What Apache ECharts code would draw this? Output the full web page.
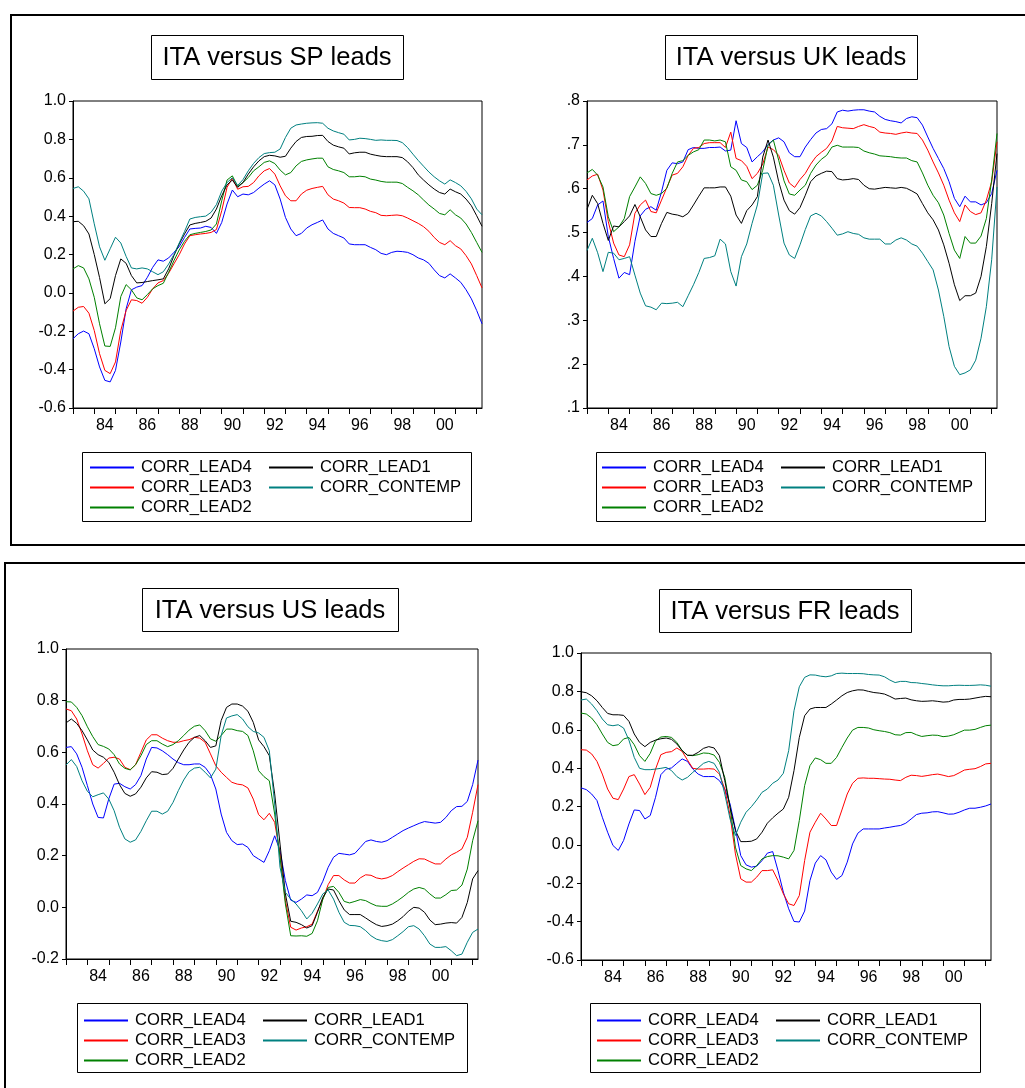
<!DOCTYPE html>
<html><head><meta charset="utf-8">
<script src="https://cdn.jsdelivr.net/npm/echarts@6/dist/echarts.min.js"></script>
<style>html,body{margin:0;padding:0;background:#fff}#c{width:1025px;height:1088px}</style>
</head><body><div id="c"></div>
<script>
const quarters = ['1983Q1','1983Q2','1983Q3','1983Q4','1984Q1','1984Q2','1984Q3','1984Q4','1985Q1','1985Q2','1985Q3','1985Q4','1986Q1','1986Q2','1986Q3','1986Q4','1987Q1','1987Q2','1987Q3','1987Q4','1988Q1','1988Q2','1988Q3','1988Q4','1989Q1','1989Q2','1989Q3','1989Q4','1990Q1','1990Q2','1990Q3','1990Q4','1991Q1','1991Q2','1991Q3','1991Q4','1992Q1','1992Q2','1992Q3','1992Q4','1993Q1','1993Q2','1993Q3','1993Q4','1994Q1','1994Q2','1994Q3','1994Q4','1995Q1','1995Q2','1995Q3','1995Q4','1996Q1','1996Q2','1996Q3','1996Q4','1997Q1','1997Q2','1997Q3','1997Q4','1998Q1','1998Q2','1998Q3','1998Q4','1999Q1','1999Q2','1999Q3','1999Q4','2000Q1','2000Q2','2000Q3','2000Q4','2001Q1','2001Q2','2001Q3','2001Q4','2002Q1','2002Q2'];
const xTickLabels = ['84','86','88','90','92','94','96','98','00'];
const seriesNames = ['CORR_LEAD4','CORR_LEAD3','CORR_LEAD2','CORR_LEAD1','CORR_CONTEMP'];
const seriesColors = ['#0000ff','#ff0000','#008000','#000000','#008080'];

// ITA versus SP
const sp_lead4 = [-0.239,-0.213,-0.199,-0.213,-0.291,-0.386,-0.456,-0.464,-0.404,-0.256,-0.083,0.016,0.030,0.038,0.081,0.133,0.172,0.165,0.182,0.211,0.241,0.289,0.333,0.336,0.338,0.347,0.341,0.310,0.367,0.463,0.536,0.501,0.515,0.511,0.523,0.546,0.567,0.584,0.563,0.489,0.393,0.333,0.298,0.310,0.338,0.355,0.367,0.380,0.333,0.310,0.298,0.286,0.255,0.251,0.251,0.251,0.237,0.225,0.206,0.199,0.211,0.217,0.215,0.211,0.199,0.182,0.172,0.154,0.120,0.090,0.078,0.099,0.078,0.055,0.016,-0.031,-0.092,-0.161];
const sp_lead3 = [-0.095,-0.075,-0.071,-0.106,-0.196,-0.317,-0.404,-0.421,-0.360,-0.196,-0.092,-0.036,-0.040,-0.054,-0.023,0.021,0.052,0.064,0.102,0.151,0.199,0.255,0.298,0.303,0.307,0.310,0.315,0.330,0.428,0.550,0.598,0.540,0.553,0.555,0.575,0.610,0.636,0.648,0.619,0.558,0.506,0.480,0.480,0.515,0.535,0.544,0.550,0.555,0.511,0.489,0.480,0.468,0.445,0.444,0.444,0.437,0.425,0.418,0.404,0.402,0.404,0.406,0.402,0.390,0.376,0.362,0.345,0.321,0.289,0.263,0.251,0.272,0.246,0.229,0.194,0.151,0.090,0.026];
const sp_lead2 = [0.125,0.142,0.130,0.073,-0.023,-0.161,-0.277,-0.279,-0.182,-0.019,0.043,0.016,-0.026,-0.036,-0.009,0.021,0.038,0.050,0.107,0.168,0.224,0.269,0.303,0.310,0.315,0.320,0.328,0.359,0.480,0.588,0.610,0.555,0.575,0.601,0.636,0.657,0.680,0.688,0.674,0.640,0.615,0.627,0.662,0.685,0.693,0.698,0.702,0.702,0.657,0.643,0.636,0.627,0.605,0.605,0.608,0.605,0.593,0.588,0.581,0.577,0.577,0.577,0.570,0.550,0.532,0.511,0.484,0.458,0.437,0.414,0.407,0.433,0.407,0.390,0.359,0.315,0.263,0.211];
const sp_lead1 = [0.371,0.373,0.350,0.307,0.200,0.080,-0.057,-0.030,0.090,0.177,0.154,0.090,0.052,0.054,0.059,0.064,0.068,0.073,0.125,0.194,0.255,0.307,0.354,0.362,0.367,0.373,0.390,0.437,0.506,0.563,0.588,0.550,0.575,0.619,0.657,0.688,0.710,0.717,0.714,0.707,0.712,0.754,0.789,0.810,0.815,0.816,0.820,0.821,0.789,0.770,0.761,0.754,0.724,0.730,0.733,0.733,0.723,0.717,0.712,0.710,0.710,0.710,0.705,0.683,0.653,0.615,0.588,0.563,0.541,0.523,0.515,0.541,0.527,0.515,0.489,0.454,0.402,0.347];
const sp_contemp = [0.544,0.553,0.530,0.490,0.360,0.240,0.170,0.230,0.290,0.260,0.190,0.130,0.125,0.130,0.125,0.110,0.095,0.110,0.150,0.200,0.260,0.320,0.385,0.393,0.397,0.400,0.420,0.460,0.530,0.575,0.600,0.560,0.590,0.636,0.675,0.705,0.726,0.731,0.733,0.750,0.810,0.858,0.875,0.880,0.884,0.886,0.887,0.884,0.858,0.844,0.835,0.827,0.797,0.800,0.806,0.804,0.800,0.795,0.797,0.795,0.795,0.794,0.783,0.757,0.723,0.690,0.660,0.630,0.605,0.584,0.567,0.589,0.575,0.558,0.529,0.490,0.437,0.407];

// ITA versus UK
const uk_lead4 = [0.523,0.532,0.563,0.572,0.491,0.441,0.396,0.409,0.404,0.480,0.538,0.553,0.559,0.551,0.593,0.642,0.659,0.657,0.661,0.689,0.694,0.692,0.692,0.694,0.694,0.695,0.686,0.688,0.755,0.703,0.694,0.661,0.673,0.684,0.701,0.711,0.716,0.707,0.682,0.673,0.673,0.695,0.712,0.727,0.735,0.737,0.748,0.775,0.779,0.777,0.779,0.780,0.780,0.777,0.775,0.765,0.758,0.755,0.753,0.750,0.760,0.764,0.762,0.745,0.718,0.692,0.669,0.646,0.616,0.578,0.559,0.583,0.570,0.570,0.563,0.568,0.589,0.642];
const uk_lead3 = [0.620,0.629,0.633,0.597,0.525,0.476,0.449,0.445,0.472,0.544,0.563,0.574,0.548,0.545,0.574,0.603,0.631,0.635,0.650,0.676,0.692,0.694,0.703,0.705,0.705,0.705,0.694,0.729,0.669,0.664,0.651,0.623,0.635,0.656,0.695,0.689,0.676,0.642,0.613,0.603,0.621,0.635,0.656,0.673,0.683,0.692,0.709,0.742,0.739,0.738,0.737,0.742,0.746,0.742,0.739,0.729,0.727,0.726,0.724,0.727,0.729,0.727,0.726,0.711,0.688,0.661,0.636,0.608,0.574,0.545,0.525,0.563,0.548,0.541,0.545,0.574,0.616,0.707];
const uk_lead2 = [0.636,0.644,0.631,0.604,0.536,0.502,0.513,0.532,0.582,0.604,0.627,0.612,0.589,0.585,0.589,0.601,0.635,0.661,0.664,0.676,0.684,0.689,0.711,0.711,0.709,0.711,0.707,0.650,0.642,0.620,0.616,0.598,0.608,0.642,0.699,0.711,0.665,0.618,0.588,0.585,0.597,0.608,0.635,0.654,0.667,0.676,0.695,0.699,0.695,0.695,0.695,0.694,0.686,0.682,0.679,0.675,0.674,0.673,0.671,0.670,0.670,0.664,0.661,0.636,0.608,0.585,0.568,0.540,0.498,0.460,0.441,0.491,0.476,0.476,0.492,0.532,0.620,0.726];
const uk_lead1 = [0.553,0.585,0.566,0.521,0.482,0.515,0.513,0.525,0.538,0.564,0.536,0.506,0.491,0.491,0.521,0.546,0.542,0.540,0.536,0.544,0.563,0.583,0.602,0.602,0.602,0.604,0.604,0.583,0.540,0.521,0.550,0.563,0.582,0.672,0.711,0.672,0.616,0.574,0.550,0.542,0.557,0.585,0.616,0.629,0.635,0.640,0.639,0.623,0.620,0.621,0.623,0.621,0.608,0.600,0.599,0.601,0.603,0.602,0.601,0.603,0.601,0.595,0.588,0.566,0.545,0.529,0.506,0.472,0.430,0.381,0.345,0.356,0.356,0.362,0.400,0.468,0.566,0.680];
const uk_contemp = [0.459,0.487,0.454,0.411,0.455,0.453,0.438,0.441,0.445,0.403,0.362,0.333,0.330,0.324,0.339,0.338,0.339,0.341,0.331,0.356,0.381,0.409,0.441,0.443,0.447,0.485,0.474,0.411,0.378,0.445,0.474,0.521,0.563,0.635,0.636,0.608,0.540,0.476,0.449,0.441,0.472,0.507,0.538,0.544,0.538,0.525,0.510,0.494,0.497,0.502,0.498,0.496,0.488,0.485,0.485,0.485,0.474,0.474,0.483,0.488,0.483,0.474,0.469,0.453,0.434,0.415,0.369,0.309,0.240,0.195,0.176,0.180,0.187,0.209,0.259,0.331,0.438,0.604];

// ITA versus US
const us_lead4 = [0.619,0.622,0.594,0.542,0.471,0.400,0.348,0.346,0.420,0.477,0.480,0.467,0.458,0.475,0.510,0.574,0.619,0.617,0.606,0.591,0.574,0.560,0.552,0.552,0.555,0.555,0.542,0.514,0.458,0.361,0.290,0.258,0.243,0.245,0.232,0.200,0.187,0.174,0.219,0.277,0.219,0.103,0.028,0.019,0.032,0.048,0.045,0.058,0.101,0.155,0.194,0.209,0.206,0.203,0.209,0.232,0.255,0.261,0.255,0.252,0.258,0.271,0.284,0.297,0.307,0.316,0.325,0.332,0.329,0.326,0.329,0.348,0.374,0.390,0.391,0.410,0.475,0.570];
const us_lead3 = [0.768,0.761,0.729,0.671,0.606,0.552,0.539,0.557,0.578,0.581,0.574,0.542,0.533,0.552,0.600,0.648,0.668,0.668,0.655,0.645,0.639,0.639,0.645,0.649,0.658,0.655,0.639,0.594,0.548,0.523,0.503,0.484,0.477,0.474,0.462,0.419,0.359,0.339,0.364,0.329,0.206,0.026,-0.077,-0.088,-0.080,-0.075,-0.065,-0.015,0.032,0.088,0.123,0.123,0.106,0.094,0.094,0.114,0.126,0.124,0.114,0.110,0.114,0.123,0.138,0.152,0.165,0.178,0.188,0.187,0.177,0.168,0.168,0.187,0.203,0.213,0.226,0.271,0.368,0.475];
const us_lead2 = [0.796,0.795,0.774,0.742,0.699,0.661,0.630,0.623,0.613,0.591,0.555,0.538,0.532,0.552,0.587,0.630,0.645,0.645,0.632,0.622,0.630,0.645,0.665,0.686,0.701,0.706,0.684,0.652,0.643,0.665,0.690,0.690,0.684,0.681,0.665,0.606,0.529,0.506,0.490,0.361,0.194,0.013,-0.110,-0.111,-0.110,-0.112,-0.101,-0.052,0.032,0.077,0.081,0.058,0.023,0.017,0.023,0.030,0.026,0.015,0.006,0.004,0.004,0.013,0.026,0.041,0.058,0.071,0.077,0.071,0.052,0.036,0.036,0.049,0.065,0.067,0.086,0.148,0.258,0.335];
const us_lead1 = [0.714,0.729,0.712,0.684,0.648,0.609,0.591,0.581,0.561,0.523,0.475,0.441,0.430,0.439,0.465,0.501,0.525,0.523,0.514,0.516,0.538,0.574,0.609,0.639,0.658,0.665,0.645,0.619,0.625,0.723,0.774,0.787,0.787,0.779,0.759,0.716,0.648,0.622,0.587,0.439,0.245,0.052,-0.054,-0.058,-0.067,-0.080,-0.071,-0.019,0.039,0.071,0.067,0.026,-0.010,-0.028,-0.028,-0.028,-0.041,-0.055,-0.067,-0.074,-0.071,-0.065,-0.052,-0.036,-0.015,0.000,-0.003,-0.019,-0.049,-0.067,-0.065,-0.061,-0.059,-0.061,-0.039,0.019,0.110,0.142];
const us_contemp = [0.551,0.572,0.545,0.490,0.449,0.428,0.436,0.443,0.419,0.374,0.310,0.265,0.252,0.261,0.294,0.335,0.372,0.372,0.361,0.372,0.406,0.452,0.493,0.525,0.539,0.542,0.523,0.501,0.535,0.665,0.733,0.741,0.746,0.729,0.699,0.681,0.675,0.658,0.606,0.400,0.155,0.058,0.032,0.013,-0.013,-0.045,-0.023,0.013,0.052,0.067,0.032,-0.019,-0.058,-0.070,-0.071,-0.075,-0.090,-0.110,-0.123,-0.129,-0.132,-0.125,-0.110,-0.094,-0.075,-0.071,-0.084,-0.110,-0.142,-0.155,-0.155,-0.152,-0.168,-0.187,-0.181,-0.135,-0.097,-0.084];

// ITA versus FR
const fr_lead4 = [0.297,0.288,0.265,0.231,0.144,0.066,-0.003,-0.029,0.023,0.109,0.182,0.179,0.135,0.153,0.248,0.366,0.395,0.401,0.425,0.448,0.435,0.395,0.369,0.356,0.356,0.356,0.335,0.291,0.213,0.083,-0.056,-0.104,-0.116,-0.111,-0.082,-0.043,-0.035,-0.134,-0.246,-0.333,-0.399,-0.402,-0.345,-0.186,-0.095,-0.056,-0.078,-0.142,-0.180,-0.160,-0.090,0.005,0.061,0.083,0.083,0.083,0.083,0.088,0.092,0.097,0.101,0.113,0.135,0.158,0.165,0.167,0.172,0.173,0.167,0.160,0.161,0.170,0.182,0.191,0.191,0.196,0.203,0.213];
const fr_lead3 = [0.496,0.494,0.474,0.435,0.369,0.291,0.243,0.236,0.291,0.356,0.366,0.317,0.262,0.300,0.395,0.470,0.482,0.486,0.505,0.487,0.442,0.399,0.395,0.395,0.397,0.395,0.369,0.291,0.153,-0.047,-0.177,-0.194,-0.194,-0.168,-0.134,-0.134,-0.130,-0.186,-0.255,-0.307,-0.316,-0.264,-0.082,0.066,0.118,0.165,0.135,0.101,0.101,0.182,0.265,0.321,0.347,0.349,0.347,0.347,0.345,0.343,0.342,0.338,0.335,0.352,0.363,0.361,0.357,0.361,0.366,0.369,0.363,0.356,0.361,0.375,0.390,0.394,0.397,0.408,0.422,0.425];
const fr_lead2 = [0.687,0.682,0.661,0.626,0.578,0.534,0.517,0.522,0.552,0.560,0.522,0.465,0.435,0.477,0.543,0.562,0.565,0.560,0.534,0.491,0.467,0.465,0.470,0.479,0.477,0.468,0.430,0.352,0.196,-0.012,-0.108,-0.125,-0.134,-0.108,-0.073,-0.061,-0.056,-0.057,-0.064,-0.073,-0.029,0.127,0.309,0.413,0.453,0.444,0.425,0.425,0.456,0.508,0.557,0.598,0.612,0.612,0.609,0.600,0.595,0.591,0.585,0.574,0.572,0.585,0.586,0.574,0.565,0.569,0.572,0.571,0.564,0.567,0.574,0.586,0.598,0.598,0.602,0.612,0.621,0.624];
const fr_lead1 = [0.798,0.793,0.777,0.751,0.716,0.685,0.678,0.678,0.675,0.644,0.578,0.534,0.512,0.534,0.546,0.553,0.557,0.550,0.526,0.491,0.467,0.467,0.482,0.503,0.512,0.505,0.465,0.335,0.196,0.075,0.017,0.017,0.019,0.031,0.066,0.113,0.141,0.165,0.187,0.248,0.387,0.560,0.673,0.708,0.716,0.716,0.716,0.734,0.755,0.777,0.794,0.803,0.808,0.807,0.800,0.794,0.791,0.786,0.774,0.760,0.763,0.765,0.756,0.751,0.748,0.749,0.751,0.748,0.744,0.746,0.755,0.758,0.758,0.760,0.765,0.770,0.774,0.772];
const fr_contemp = [0.755,0.760,0.734,0.699,0.656,0.626,0.621,0.626,0.609,0.546,0.456,0.399,0.392,0.392,0.395,0.399,0.404,0.387,0.356,0.338,0.352,0.378,0.401,0.425,0.435,0.425,0.378,0.265,0.135,0.049,0.118,0.170,0.199,0.234,0.274,0.291,0.321,0.338,0.373,0.491,0.699,0.824,0.873,0.886,0.885,0.879,0.876,0.881,0.893,0.895,0.893,0.893,0.893,0.892,0.888,0.886,0.885,0.876,0.859,0.846,0.852,0.852,0.846,0.845,0.841,0.838,0.834,0.831,0.829,0.829,0.831,0.832,0.831,0.831,0.832,0.834,0.832,0.827];

const FONT = '"Liberation Sans", Arial, sans-serif';
const fmt1 = v => v.toFixed(1);
const fmtNoZero = v => v.toFixed(1).replace(/^0/, '');

const panels = [
  { title: 'ITA versus SP leads', series: [sp_lead4, sp_lead3, sp_lead2, sp_lead1, sp_contemp],
    grid: {left: 73, top: 101, width: 409, height: 307}, yMin: -0.6, yMax: 1.0, yInt: 0.2, fmt: fmt1,
    titleBox: [151, 35, 252, 44], legendBox: [82, 452, 389, 69], legendCols: [90, 269], legendTop: 459 },
  { title: 'ITA versus UK leads', series: [uk_lead4, uk_lead3, uk_lead2, uk_lead1, uk_contemp],
    grid: {left: 587, top: 101, width: 410, height: 307}, yMin: 0.1, yMax: 0.8, yInt: 0.1, fmt: fmtNoZero,
    titleBox: [665, 35, 252, 44], legendBox: [596, 452, 389, 69], legendCols: [602, 781], legendTop: 459 },
  { title: 'ITA versus US leads', series: [us_lead4, us_lead3, us_lead2, us_lead1, us_contemp],
    grid: {left: 66, top: 649, width: 412, height: 310}, yMin: -0.2, yMax: 1.0, yInt: 0.2, fmt: fmt1,
    titleBox: [142, 588, 256, 43], legendBox: [77, 1003, 390, 69], legendCols: [84, 263], legendTop: 1012 },
  { title: 'ITA versus FR leads', series: [fr_lead4, fr_lead3, fr_lead2, fr_lead1, fr_contemp],
    grid: {left: 581, top: 653, width: 410, height: 307}, yMin: -0.6, yMax: 1.0, yInt: 0.2, fmt: fmt1,
    titleBox: [659, 589, 252, 43], legendBox: [590, 1003, 390, 69], legendCols: [597, 776], legendTop: 1012 }
];

const grids = [], xAxes = [], yAxes = [], series = [], legends = [], graphics = [];

// outer frames
graphics.push({type: 'rect', shape: {x: 11, y: 15, width: 1100, height: 530}, style: {fill: 'none', stroke: '#000', lineWidth: 2}, silent: true});
graphics.push({type: 'rect', shape: {x: 5, y: 563, width: 1100, height: 600}, style: {fill: 'none', stroke: '#000', lineWidth: 2}, silent: true});

panels.forEach((p, gi) => {
  grids.push(Object.assign({show: true, borderColor: '#000', borderWidth: 1, backgroundColor: 'transparent', containLabel: false}, p.grid));
  xAxes.push({
    type: 'category', gridIndex: gi, data: quarters, boundaryGap: false,
    axisLine: {show: true, onZero: false, lineStyle: {color: '#000', width: 1}},
    axisTick: {show: true, length: 6, interval: (i) => i % 4 === 0, lineStyle: {color: '#000', width: 1}},
    axisLabel: {
      interval: (i, v) => v.endsWith('Q3') && xTickLabels.indexOf(v.slice(2, 4)) >= 0,
      formatter: v => v.slice(2, 4), color: '#000', fontSize: 16, fontFamily: FONT, margin: 10
    },
    splitLine: {show: false}
  });
  yAxes.push({
    type: 'value', gridIndex: gi, min: p.yMin, max: p.yMax, interval: p.yInt,
    axisLine: {show: true, onZero: false, lineStyle: {color: '#000', width: 1}},
    axisTick: {show: true, length: 4, lineStyle: {color: '#000', width: 1}},
    axisLabel: {formatter: p.fmt, color: '#000', fontSize: 16, fontFamily: FONT, margin: 7},
    splitLine: {show: false}
  });
  p.series.forEach((d, si) => {
    series.push({
      name: seriesNames[si], type: 'line', xAxisIndex: gi, yAxisIndex: gi, data: d,
      symbol: 'none', showSymbol: false, smooth: false, silent: true,
      lineStyle: {color: seriesColors[si], width: 1}, itemStyle: {color: seriesColors[si]},
      emphasis: {disabled: true}
    });
  });
  const legendBase = {
    orient: 'vertical', top: p.legendTop, padding: 0, itemWidth: 44, itemHeight: 2, itemGap: 3,
    selectedMode: false, icon: 'rect',
    textStyle: {color: '#000', fontSize: 16.6, fontFamily: FONT, lineHeight: 16.5, padding: [0, 0, 0, 2]}
  };
  legends.push(Object.assign({}, legendBase, {left: p.legendCols[0], data: ['CORR_LEAD4', 'CORR_LEAD3', 'CORR_LEAD2']}));
  legends.push(Object.assign({}, legendBase, {left: p.legendCols[1], data: ['CORR_LEAD1', 'CORR_CONTEMP']}));
  const [tx, ty, tw, th] = p.titleBox;
  graphics.push({type: 'rect', shape: {x: tx + 0.5, y: ty + 0.5, width: tw, height: th}, style: {fill: '#fff', stroke: '#000', lineWidth: 1}, silent: true});
  graphics.push({type: 'text', x: tx + tw / 2, y: ty + th / 2 + 1, silent: true,
    style: {text: p.title, fill: '#000', font: '25.5px ' + FONT, align: 'center', verticalAlign: 'middle', textAlign: 'center', textVerticalAlign: 'middle'}});
  const [lx, ly, lw, lh] = p.legendBox;
  graphics.push({type: 'rect', shape: {x: lx + 0.5, y: ly + 0.5, width: lw, height: lh}, style: {fill: 'none', stroke: '#000', lineWidth: 1}, silent: true, z: -1});
});

const chart = echarts.init(document.getElementById('c'), null, {renderer: 'canvas'});
chart.setOption({
  animation: false,
  backgroundColor: '#fff',
  grid: grids, xAxis: xAxes, yAxis: yAxes, series: series, legend: legends,
  graphic: graphics
});
</script></body></html>
